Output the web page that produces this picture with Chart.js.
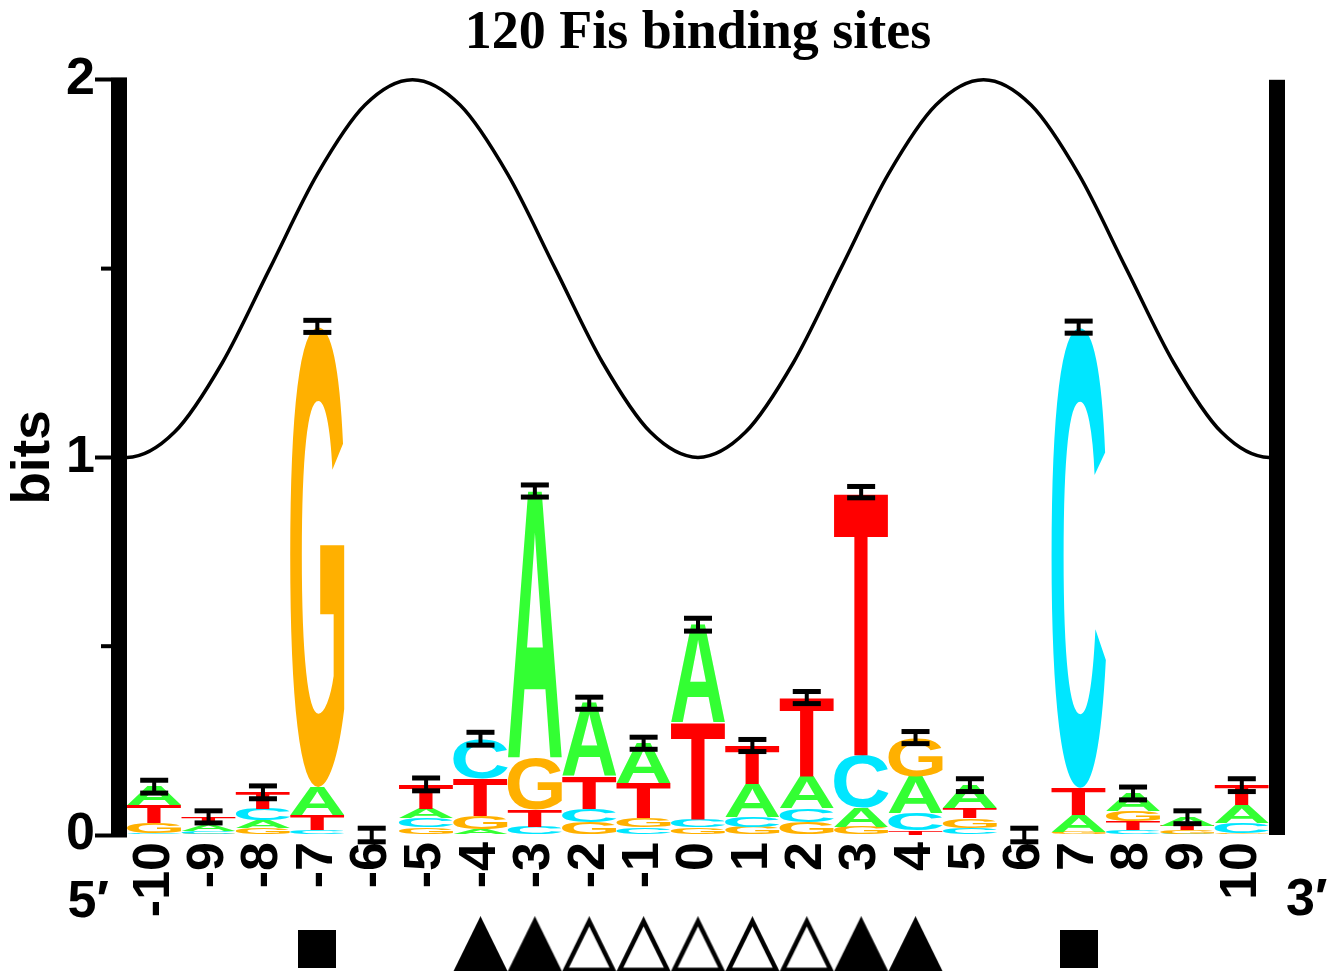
<!DOCTYPE html>
<html>
<head>
<meta charset="utf-8">
<title>120 Fis binding sites</title>
<script src="https://cdn.jsdelivr.net/npm/chart.js@4.4.1/dist/chart.umd.min.js"></script>
<style>
  html, body { margin: 0; padding: 0; background: #fff; }
  #wrap { width: 1331px; height: 971px; position: relative; }
</style>
</head>
<body>
<div id="wrap"><canvas id="logo"></canvas></div>
<script>
// positions of the binding site and their labels
const positions  = [-10, -9, -8, -7, -6, -5, -4, -3, -2, -1, 0, 1, 2, 3, 4, 5, 6, 7, 8, 9, 10];
const tickLabels = ["-10", "-9", "-8", "-7", "-6", "-5", "-4", "-3", "-2", "-1", "0",
                    "1", "2", "3", "4", "5", "6", "7", "8", "9", "10"];
const yTickLabels = ["0", "", "1", "", "2"];
const endLabels = ["5\u2032", "3\u2032"];

// information (bits) per letter, per position
const bitsA = [0.050, 0.017, 0.020, 0.074, 0, 0.026, 0.016, 0.710, 0.195, 0.106, 0.260,
               0.087, 0.085, 0.050, 0.098, 0.061, 0, 0.045, 0.048, 0.022, 0.048];
const bitsC = [0.005, 0.007, 0.030, 0.013, 0, 0.024, 0.105, 0.021, 0.036, 0.020, 0.022,
               0.026, 0.036, 0.140, 0.045, 0.019, 0, 1.220, 0.013, 0.003, 0.026];
const bitsG = [0.027, 0.003, 0.018, 1.220, 0, 0.020, 0.034, 0.135, 0.033, 0.024, 0.020,
               0.021, 0.034, 0.021, 0.102, 0.025, 0, 0.008, 0.026, 0.010, 0.005];
const bitsT = [0.046, 0.021, 0.045, 0.040, 0, 0.064, 0.100, 0.045, 0.085, 0.093, 0.255,
               0.103, 0.209, 0.697, 0.013, 0.027, 0, 0.072, 0.023, 0.012, 0.053];
// half height of the error bars (bits)
const errBits = [0.017, 0.016, 0.017, 0.016, 0.018, 0.017, 0.017, 0.016, 0.016, 0.016, 0.017,
                 0.016, 0.016, 0.015, 0.016, 0.017, 0.018, 0.016, 0.017, 0.017, 0.017];

// helical phase curve (one point past each edge keeps the ends flat)
const waveX = [-11.375, -10.5, -9.625, -8.75, -7.875, -7, -6.125, -5.25, -4.375, -3.5, -2.625, -1.75, -0.875, 0,
               0.875, 1.75, 2.625, 3.5, 4.375, 5.25, 6.125, 7, 7.875, 8.75, 9.625, 10.5, 11.375];
const waveY = [1.067, 1, 1.067, 1.25, 1.5, 1.75, 1.933, 2, 1.933, 1.75, 1.5, 1.25, 1.067, 1,
               1.067, 1.25, 1.5, 1.75, 1.933, 2, 1.933, 1.75, 1.5, 1.25, 1.067, 1, 1.067];

// symbols under the axis
const markerPos  = [-7, -4, -3, -2, -1, 0, 1, 2, 3, 4, 7];
const markerKind = ["square", "filled", "filled", "open", "open", "open", "open", "open", "filled", "filled", "square"];

const LETTERS = ["A", "C", "G", "T"];
const LETTER_COLORS = { A: "#33ff33", C: "#00e6ff", G: "#ffb000", T: "#ff0000" };
const SANS = '"Liberation Sans", Arial, Helvetica, sans-serif';
const MARKER_Y = { square: -0.302, filled: -0.289, open: -0.289 };

// marker glyphs (drawn once, used as point styles)
function makeMarker(kind) {
  const c = document.createElement("canvas");
  const g = c.getContext("2d");
  if (kind === "square") {
    c.width = 38; c.height = 38;
    g.fillStyle = "#000";
    g.fillRect(0, 0, 38, 38);
    return c;
  }
  const w = 55, h = 56;
  c.width = w; c.height = h;
  g.fillStyle = "#000";
  g.beginPath(); g.moveTo(0, h); g.lineTo(w / 2, 0); g.lineTo(w, h); g.closePath(); g.fill();
  if (kind === "open") {
    const side = Math.hypot(w / 2, h);
    const r = (0.5 * w * h) / ((w + 2 * side) / 2);
    const cy = h - r, k = (r - 4.5) / r;
    g.fillStyle = "#fff";
    g.beginPath();
    g.moveTo(w / 2, cy - cy * k);
    g.lineTo(w / 2 - (w / 2) * k, cy + (h - cy) * k);
    g.lineTo(w / 2 + (w / 2) * k, cy + (h - cy) * k);
    g.closePath(); g.fill();
  }
  return c;
}
const markerImages = { square: makeMarker("square"), filled: makeMarker("filled"), open: makeMarker("open") };

// per column, letters sorted so the biggest ends on top
const columns = positions.map((p, i) => {
  const h = { A: bitsA[i], C: bitsC[i], G: bitsG[i], T: bitsT[i] };
  return LETTERS.map(l => ({ l, v: h[l] })).sort((a, b) => a.v - b.v);
});

const rankDatasets = [0, 1, 2, 3].map(r => ({
  type: "bar",
  yAxisID: "y",
  stack: "logo",
  letters: columns.map(c => c[r].l),
  data: columns.map((c, i) => ({ x: positions[i], y: c[r].v })),
  backgroundColor: "rgba(0,0,0,0)",
  borderWidth: 0,
  barPercentage: 1,
  categoryPercentage: 1
}));

const glyphCache = {};
function drawLetter(ctx, ch, left, top, w, h) {
  if (h < 0.4 || w <= 0) return;
  ctx.save();
  ctx.font = "bold 200px " + SANS;
  let m = glyphCache[ch];
  if (!m) { m = ctx.measureText(ch); glyphCache[ch] = m; }
  const gw = m.actualBoundingBoxLeft + m.actualBoundingBoxRight;
  const gh = m.actualBoundingBoxAscent + m.actualBoundingBoxDescent;
  ctx.translate(left, top);
  ctx.scale(w / gw, h / gh);
  ctx.fillStyle = LETTER_COLORS[ch];
  ctx.textAlign = "left";
  ctx.textBaseline = "alphabetic";
  ctx.fillText(ch, m.actualBoundingBoxLeft, m.actualBoundingBoxAscent);
  ctx.restore();
}

const logoPlugin = {
  id: "logoLetters",
  afterDatasetsDraw(chart) {
    const ctx = chart.ctx;
    const { x: xs, y: ys } = chart.scales;
    // letters
    rankDatasets.forEach((ds, r) => {
      const meta = chart.getDatasetMeta(r);
      meta.data.forEach((bar, i) => {
        const p = bar.getProps(["x", "y", "base", "width"], true);
        drawLetter(ctx, ds.letters[i], p.x - p.width / 2, Math.min(p.y, p.base), p.width, Math.abs(p.base - p.y));
      });
    });
    // error bars on top of each stack
    ctx.save();
    ctx.fillStyle = "#000";
    positions.forEach((pos, i) => {
      const total = bitsA[i] + bitsC[i] + bitsG[i] + bitsT[i];
      const px = xs.getPixelForValue(pos);
      const hi = ys.getPixelForValue(total + errBits[i]);
      const lo = ys.getPixelForValue(total - errBits[i]);
      ctx.fillRect(px - 2, hi, 4, lo - hi);
      ctx.fillRect(px - 14, hi - 2.5, 28, 5);
      ctx.fillRect(px - 14, lo - 2.5, 28, 5);
    });
    ctx.restore();
  }
};

const framePlugin = {
  id: "frame",
  afterDraw(chart) {
    const { ctx, chartArea: a } = chart;
    const y = chart.scales.y;
    const top = y.getPixelForValue(2), bottom = y.getPixelForValue(0);
    ctx.save();
    ctx.fillStyle = "#000";
    ctx.fillRect(a.left - 16, top - 2, 16, bottom - top + 4);
    ctx.fillRect(a.right, top, 16, bottom - top);
    [0.5, 1.5].forEach(v => {
      const py = y.getPixelForValue(v);
      ctx.fillRect(a.left - 26, py - 2, 10, 4);
    });
    ctx.font = "bold 52px " + SANS;
    ctx.textBaseline = "alphabetic";
    ctx.textAlign = "right";
    ctx.fillText(endLabels[0], a.left - 18, bottom + 82);
    ctx.textAlign = "left";
    ctx.fillText(endLabels[1], a.right + 17, bottom + 80);
    ctx.restore();
  }
};

new Chart(document.getElementById("logo"), {
  type: "bar",
  data: {
    datasets: [
      ...rankDatasets,
      {
        type: "line",
        yAxisID: "y2",
        data: waveX.map((x, i) => ({ x, y: waveY[i] })),
        borderColor: "#000",
        borderWidth: 3.5,
        pointRadius: 0,
        cubicInterpolationMode: "monotone",
        fill: false,
        clip: { left: 0, right: 0, top: 6, bottom: 6 }
      },
      {
        type: "line",
        yAxisID: "y2",
        showLine: false,
        clip: false,
        data: markerPos.map((x, i) => ({ x, y: MARKER_Y[markerKind[i]] })),
        pointStyle: (c) => markerImages[markerKind[c.dataIndex]] || "circle",
        // large radius only widens the in-area test; image size is its own
        pointRadius: 140,
        pointBorderWidth: 0
      }
    ]
  },
  options: {
    responsive: true,
    maintainAspectRatio: false,
    animation: false,
    events: [],
    layout: { autoPadding: false, padding: { top: 0, right: 62, bottom: 0, left: 0 } },
    plugins: {
      legend: { display: false },
      tooltip: { enabled: false },
      title: {
        display: true,
        text: "120 Fis binding sites",
        fullSize: false,
        color: "#000",
        font: { family: '"Liberation Serif", "Times New Roman", serif', size: 54, weight: "bold", lineHeight: 1.2 },
        padding: { top: 2, bottom: 13 }
      }
    },
    scales: {
      x: {
        type: "linear",
        min: -10.5,
        max: 10.5,
        offset: false,
        stacked: true,
        afterBuildTicks: (s) => { s.ticks = positions.map(v => ({ value: v })); },
        afterFit: (s) => { s.height = 136; },
        ticks: {
          autoSkip: false,
          minRotation: 90,
          maxRotation: 90,
          padding: 7,
          color: "#000",
          font: { family: SANS, size: 52, weight: "bold" },
          callback: (v, i) => tickLabels[i]
        },
        grid: { display: false, drawTicks: false, offset: false },
        border: { display: false }
      },
      y: {
        min: 0,
        max: 2,
        stacked: true,
        afterFit: (s) => { s.width = 127; },
        ticks: {
          stepSize: 0.5,
          padding: 0,
          color: "#000",
          font: { family: SANS, size: 52, weight: "bold" },
          callback: (v, i) => yTickLabels[i]
        },
        grid: {
          display: true,
          drawOnChartArea: false,
          drawTicks: true,
          tickLength: 32,
          tickWidth: 4,
          tickColor: (c) => (c.tick && Number.isInteger(c.tick.value)) ? "#000" : "rgba(0,0,0,0)"
        },
        border: { display: false },
        title: {
          display: true,
          text: "bits",
          color: "#000",
          font: { family: SANS, size: 53, weight: "bold" },
          padding: { top: 3, bottom: 0 }
        }
      },
      y2: { display: false, min: 0, max: 2 }
    }
  },
  plugins: [logoPlugin, framePlugin]
});
</script>
</body>
</html>
